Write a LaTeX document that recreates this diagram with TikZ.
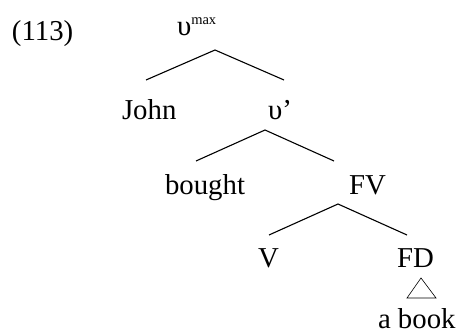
\documentclass[tikz,border=0pt]{standalone}
\usepackage{fontspec}
\setmainfont{Liberation Serif}
\begin{document}
\begin{tikzpicture}[x=1pt,y=1pt,
  lbl/.style={anchor=base west,inner sep=0pt,outer sep=0pt,font=\fontsize{28.8}{34}\selectfont},
  branch/.style={line width=1.1pt},
  tri/.style={line width=0.6pt}]
\useasboundingbox (0,0) rectangle (460,-334);
\node[lbl] (ex) at (12,-41) {(113)};
\node[lbl] (vmax) at (177,-36) {υ\raisebox{11.5pt}{\fontsize{14.5}{16}\selectfont max}};
\node[lbl] (john) at (122,-120) {John};
\node[lbl] (vbar) at (268,-120) {υ’};
\node[lbl] (bought) at (165,-194) {bought};
\node[lbl] (fv) at (349,-194) {FV};
\node[lbl] (v) at (258,-267) {V};
\node[lbl] (fd) at (397,-267) {FD};
\node[lbl] (abook) at (378,-328) {a book};
% branch points
\coordinate (a1) at (215,-50);
\coordinate (l1) at (146,-80);
\coordinate (r1) at (284,-80);
\coordinate (a2) at (265,-130);
\coordinate (l2) at (196,-161);
\coordinate (r2) at (334,-161);
\coordinate (a3) at (338,-204);
\coordinate (l3) at (269,-235);
\coordinate (r3) at (407,-235);
\coordinate (t1) at (421,-278);
\coordinate (t2) at (407,-298);
\coordinate (t3) at (436,-298);
\draw[branch] (l1) -- (a1) -- (r1);
\draw[branch] (l2) -- (a2) -- (r2);
\draw[branch] (l3) -- (a3) -- (r3);
\draw[tri] (t1) -- (t2) -- (t3) -- cycle;
\end{tikzpicture}
\end{document}
